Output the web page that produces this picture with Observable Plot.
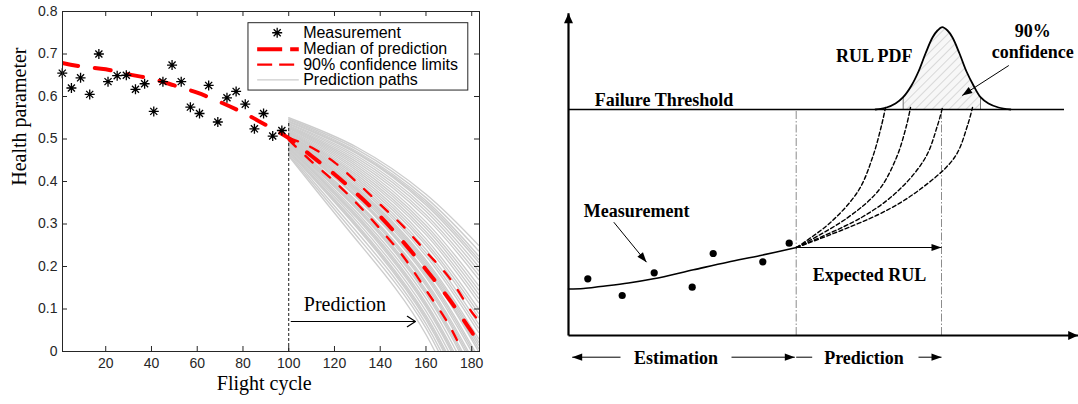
<!DOCTYPE html>
<html><head><meta charset="utf-8">
<script src="https://cdn.jsdelivr.net/npm/d3@7"></script>
<script src="https://cdn.jsdelivr.net/npm/@observablehq/plot@0.6"></script>
<style>
body{margin:0;background:#fff;}
#wrap{position:relative;width:1078px;height:404px;overflow:hidden;background:#fff;}
#left{position:absolute;left:0;top:0;}
#right{position:absolute;left:540px;top:0;}
</style></head><body>
<svg width="0" height="0" style="position:absolute"><defs>
<pattern id="hatch" patternUnits="userSpaceOnUse" width="6" height="6" patternTransform="rotate(45)">
<rect width="6" height="6" fill="#f7f7f7"/><line x1="0" y1="0" x2="0" y2="6" stroke="#c4c4c4" stroke-width="1.2"/>
</pattern></defs></svg>
<div id="wrap"><div id="left"></div><div id="right"></div></div>
<script>
// ---------------- LEFT PANEL DATA ----------------
const cycles = [1,5,9,13,17,21,25,29,33,37,41,45,49,53,57,61,65,69,73,77,81,85,89,93,97];
const health = [0.655,0.620,0.644,0.605,0.700,0.635,0.649,0.650,0.617,0.630,0.565,0.635,0.674,0.635,0.575,0.560,0.626,0.540,0.597,0.612,0.582,0.524,0.560,0.507,0.520];

const medianX = [1,10,20,30,40,50,60,70,80,90,100,110,120,130,140,150,160,170,180,183];
const medianY = [0.679,0.670,0.664,0.652,0.642,0.626,0.609,0.587,0.562,0.533,0.502,0.460,0.417,0.370,0.318,0.258,0.193,0.124,0.046,0.020];
const upperX = [100,110,120,130,140,150,160,170,180,183];
const upperY = [0.503,0.480,0.445,0.397,0.346,0.295,0.235,0.175,0.093,0.073];
const lowerX = [100,110,120,130,140,150,160,170,176];
const lowerY = [0.498,0.447,0.400,0.347,0.288,0.224,0.145,0.063,0.0];

const pathX = [100,130,160,183];
const paths = [
  [0.550,0.480,0.370,0.250],[0.547,0.475,0.362,0.237],[0.545,0.470,0.355,0.225],
  [0.542,0.467,0.350,0.217],[0.540,0.465,0.345,0.210],[0.537,0.460,0.337,0.200],
  [0.535,0.455,0.330,0.190],[0.532,0.450,0.322,0.180],[0.530,0.445,0.315,0.170],
  [0.528,0.440,0.305,0.155],[0.526,0.435,0.297,0.145],[0.525,0.430,0.290,0.135],
  [0.522,0.425,0.282,0.125],[0.520,0.420,0.275,0.115],[0.518,0.415,0.265,0.100],
  [0.516,0.410,0.257,0.090],[0.515,0.405,0.250,0.080],[0.512,0.400,0.240,0.065],
  [0.511,0.395,0.232,0.055],[0.510,0.390,0.225,0.045],[0.508,0.385,0.215,0.030],
  [0.506,0.381,0.210,0.022],[0.505,0.378,0.205,0.015],[0.502,0.374,0.200,0.007],
  [0.500,0.370,0.195,0.000],[0.500,0.365,0.185,-0.015],[0.498,0.362,0.180,-0.022],
  [0.497,0.360,0.175,-0.030],[0.495,0.352,0.165,-0.045],[0.493,0.348,0.160,-0.052],
  [0.492,0.345,0.155,-0.060],[0.490,0.340,0.145,-0.075],[0.488,0.336,0.140,-0.082],
  [0.487,0.333,0.135,-0.090],[0.485,0.326,0.125,-0.105],[0.482,0.320,0.115,-0.120],
  [0.481,0.316,0.110,-0.128],[0.480,0.312,0.105,-0.135],[0.477,0.305,0.095,-0.150],
  [0.474,0.298,0.085,-0.165],[0.472,0.294,0.080,-0.172],[0.470,0.290,0.075,-0.180],
  [0.467,0.280,0.065,-0.200],[0.463,0.270,0.055,-0.220],[0.460,0.260,0.040,-0.250]
];

const xTicks = [20,40,60,80,100,120,140,160,180];
const yTicks = [0,0.1,0.2,0.3,0.4,0.5,0.6,0.7,0.8];
const yTickLabels = ["0","0.1","0.2","0.3","0.4","0.5","0.6","0.7","0.8"];

const legendLabels = ["Measurement","Median of prediction","90% confidence limits","Prediction paths"];

// ---------------- RIGHT PANEL DATA (schematic units) ----------------
const thresholdH = 226;
const measT = [19.3,53.7,85.7,123.7,144.7,194.3,220.7];
const measH = [56.7,40,62.7,48.3,82,73.7,92.3];
const fitT = [0,15,32,60,85,125,159,192,228];
const fitH = [46.5,47,49,52.5,56.7,65.7,73.3,80,88];
const predPaths = [
  {t:[228,262,290,304,313,317], h:[88,113,145,178,210,228]},
  {t:[228,278,310,328,338,342], h:[88,117,145,178,210,228]},
  {t:[228,293,330,357,369,374], h:[88,118,145,178,210,228]},
  {t:[228,310,350,386,399,404], h:[88,121,145,178,210,228]}
];
const pdfT = [307,318,327,334.7,343,350,357,364,369,373.7,379,384,391,398,405,412,420,430,442];
const pdfH = [226,228,232,238.3,250,264,282,298,305,308.3,305,298,282,264,250,238.3,232,228,226];
const confLo = 334.7, confHi = 412;
const nowT = 227.7, eolT = 373;
const texts = [
  {label:"Failure Threshold", t:26.3, h:235.4, anchor:"start"},
  {label:"Measurement", t:15.3, h:124.4, anchor:"start"},
  {label:"RUL PDF", t:305.8, h:279.4, anchor:"middle"},
  {label:"90%", t:464.3, h:304.4, anchor:"middle"},
  {label:"confidence", t:464.3, h:283.7, anchor:"middle"},
  {label:"Expected RUL", t:301, h:60.4, anchor:"middle"},
  {label:"Estimation", t:107.5, h:-22.6, anchor:"middle"},
  {label:"Prediction", t:295.5, h:-22.6, anchor:"middle"}
];
const arrows = [
  {t1:45.3,h1:113.3,t2:78,h2:73.3},
  {t1:440.3,h1:270,t2:393.7,h2:240},
  {t1:228,h1:88,t2:373,h2:88},
  {t1:52,h1:-21.7,t2:3.7,h2:-21.7},
  {t1:163,h1:-21.7,t2:226.3,h2:-21.7},
  {t1:350,h1:-21.7,t2:373,h2:-21.7}
];
const segments = [{t1:227.7,h1:-21.7,t2:243.7,h2:-21.7}];
const axesArrows = [{t1:0,h1:0,t2:0,h2:322.3},{t1:0,h1:0,t2:509.7,h2:0}];

// ---------------- helpers ----------------
const asterisk = {draw(ctx){ const r=5; for(let i=0;i<4;i++){const a=i*Math.PI/4; ctx.moveTo(-r*Math.cos(a),-r*Math.sin(a)); ctx.lineTo(r*Math.cos(a),r*Math.sin(a));} }};
function head(a, L, W){ const c=Math.cos(a), s=Math.sin(a); return {draw(ctx){ const bx=-L*c, by=-L*s, px=-s*W, py=c*W; ctx.moveTo(0,0); ctx.lineTo(bx+px,by+py); ctx.lineTo(bx-px,by-py); ctx.closePath(); }}; }
const ang = d => Math.atan2(-(d.h2-d.h1), d.t2-d.t1);

// ---------------- LEFT PLOT ----------------
const meas = cycles.map((c,i)=>({x:c,y:health[i]}));
const median = medianX.map((x,i)=>({x,y:medianY[i]}));
const upper = upperX.map((x,i)=>({x,y:upperY[i]}));
const lower = lowerX.map((x,i)=>({x,y:lowerY[i]}));
const pathRows = paths.flatMap((p,k)=>p.map((y,i)=>({id:k,x:pathX[i],y})));
const sans = "Liberation Sans, Arial, Helvetica, sans-serif";
const serif = "Liberation Serif, Times New Roman, serif";

const lg = {x1:82.4,x2:178.5,y1:0.614,y2:0.7725, rows:[0.750,0.711,0.675,0.639], s1:86.2, s2:104.4, sm:94.95, tx:106.3};
const lgRows = legendLabels.map((l,i)=>({label:l, y:lg.rows[i]}));

const left = Plot.plot({
  width: 490, height: 404,
  marginLeft: 62, marginRight: 11, marginTop: 11, marginBottom: 53,
  style: {fontFamily: sans, fontSize: "14px", color: "#262626", background: "white"},
  x: {domain: [1.1, 183.4]},
  y: {domain: [0, 0.8]},
  marks: [
    Plot.line(pathRows, {x:"x", y:"y", z:"id", stroke:"#cdcdcd", strokeWidth:1.4, curve:"natural", clip:true}),
    Plot.ruleX([100], {y1:0, y2:0.537, stroke:"black", strokeWidth:0.9, strokeDasharray:"3,2"}),
    Plot.line(upper, {x:"x", y:"y", stroke:"#ff0000", strokeWidth:2.3, strokeDasharray:"10,13", curve:"catmull-rom", clip:true}),
    Plot.line(lower, {x:"x", y:"y", stroke:"#ff0000", strokeWidth:2.3, strokeDasharray:"10,13", curve:"catmull-rom", clip:true}),
    Plot.line(median, {x:"x", y:"y", stroke:"#ff0000", strokeWidth:4, strokeDasharray:"16,17", curve:"catmull-rom", clip:true}),
    Plot.dot(meas, {x:"x", y:"y", symbol: asterisk, stroke:"black", fill:"none", strokeWidth:1.3}),
    Plot.frame({stroke:"#262626", strokeWidth:1}),
    Plot.tickX(xTicks, {x:d=>d, insetTop:335, stroke:"#262626"}),
    Plot.tickX(xTicks, {x:d=>d, insetBottom:335, stroke:"#262626"}),
    Plot.tickY(yTicks, {y:d=>d, insetRight:412, stroke:"#262626"}),
    Plot.tickY(yTicks, {y:d=>d, insetLeft:412, stroke:"#262626"}),
    Plot.axisX({ticks: xTicks, tickSize:0, tickPadding:7, label:null, fontSize:14}),
    Plot.axisY({ticks: yTicks, tickFormat:(d)=>yTickLabels[yTicks.indexOf(d)], tickSize:0, tickPadding:5, label:null, fontSize:14}),
    Plot.rect([lg], {x1:"x1", x2:"x2", y1:"y1", y2:"y2", fill:"white", stroke:"#262626", strokeWidth:1}),
    Plot.dot([lgRows[0]], {x:lg.sm, y:"y", symbol: asterisk, stroke:"black", fill:"none", strokeWidth:1.3}),
    Plot.link([lgRows[1]], {x1:lg.s1, x2:lg.s2, y1:"y", y2:"y", stroke:"#ff0000", strokeWidth:4, strokeDasharray:"25,8"}),
    Plot.link([lgRows[2]], {x1:lg.s1, x2:lg.s2, y1:"y", y2:"y", stroke:"#ff0000", strokeWidth:2.3, strokeDasharray:"15,7"}),
    Plot.link([lgRows[3]], {x1:lg.s1, x2:lg.s2, y1:"y", y2:"y", stroke:"#cccccc", strokeWidth:1.3}),
    Plot.text(lgRows, {x:lg.tx, y:"y", text:"label", textAnchor:"start", fontSize:16, fill:"black"}),
    Plot.arrow([{x1:101.1, x2:155.4, y:0.0706}], {x1:"x1", x2:"x2", y1:"y", y2:"y", stroke:"black", strokeWidth:1.2, headLength:12, headAngle:65}),
    Plot.text(["Prediction"], {x:106.6, y:0.1105, textAnchor:"start", fontFamily:serif, fontSize:20, fill:"black"}),
    Plot.text(["Flight cycle"], {x:89.3, frameAnchor:"bottom", dy:38, fontFamily:serif, fontSize:20, fill:"black"}),
    Plot.text(["Health parameter"], {y:0.39, frameAnchor:"left", dx:-43, rotate:-90, fontFamily:serif, fontSize:20, fill:"black"})
  ]
});
document.getElementById("left").appendChild(left);

// ---------------- RIGHT PLOT ----------------
const pdf = pdfT.map((t,i)=>({t,h:pdfH[i]}));
const pdfConf = pdf.filter(d=>d.t>=confLo && d.t<=confHi);
const confRules = pdf.filter(d=>d.t===confLo || d.t===confHi);
const measPts = measT.map((t,i)=>({t,h:measH[i]}));
const fit = fitT.map((t,i)=>({t,h:fitH[i]}));
const pRows = predPaths.flatMap((p,k)=>p.t.map((t,i)=>({id:k,t,h:p.h[i]})));
const bold = {fontFamily: serif, fontWeight: "bold", fontSize: 18, fill: "black"};

const right = Plot.plot({
  width: 538, height: 404,
  marginLeft: 0, marginRight: 0, marginTop: 0, marginBottom: 0,
  style: {background: "white", fontFamily: serif},
  x: {domain: [-28, 510], range: [0, 538], axis: null},
  y: {domain: [-69, 335], range: [404, 0], axis: null},
  marks: [
    Plot.areaY(pdfConf, {x:"t", y1:thresholdH, y2:"h", fill:"url(#hatch)", curve:"catmull-rom"}),
    Plot.ruleX(confRules, {x:"t", y1:thresholdH, y2:"h", stroke:"#777", strokeWidth:1}),
    Plot.line(pdf, {x:"t", y:"h", stroke:"black", strokeWidth:1.8, curve:"catmull-rom"}),
    Plot.ruleY([thresholdH], {x1:0, x2:496, stroke:"black", strokeWidth:1.3}),
    Plot.ruleX([nowT, eolT], {y1:0, y2:thresholdH, stroke:"#8c8c8c", strokeWidth:1, strokeDasharray:"8,2,1.5,2"}),
    Plot.line(fit, {x:"t", y:"h", stroke:"black", strokeWidth:1.6, curve:"catmull-rom"}),
    Plot.line(pRows, {x:"t", y:"h", z:"id", stroke:"black", strokeWidth:1.4, strokeDasharray:"4,2.5", curve:"catmull-rom"}),
    Plot.dot(measPts, {x:"t", y:"h", r:3.6, fill:"black"}),
    Plot.link(axesArrows, {x1:"t1", y1:"h1", x2:"t2", y2:"h2", stroke:"black", strokeWidth:2.2}),
    ...axesArrows.map(a=>Plot.dot([a], {x:"t2", y:"h2", symbol: head(ang(a), 10, 4.5), fill:"black", stroke:"none"})),
    Plot.link(arrows.concat(segments), {x1:"t1", y1:"h1", x2:"t2", y2:"h2", stroke:"black", strokeWidth:1}),
    ...arrows.map(a=>Plot.dot([a], {x:"t2", y:"h2", symbol: head(ang(a), 10, 3.6), fill:"black", stroke:"none"})),
    Plot.text(texts.filter(d=>d.anchor==="start"), {x:"t", y:"h", text:"label", textAnchor:"start", ...bold}),
    Plot.text(texts.filter(d=>d.anchor==="middle"), {x:"t", y:"h", text:"label", textAnchor:"middle", ...bold})
  ]
});
document.getElementById("right").appendChild(right);
</script>
</body></html>
